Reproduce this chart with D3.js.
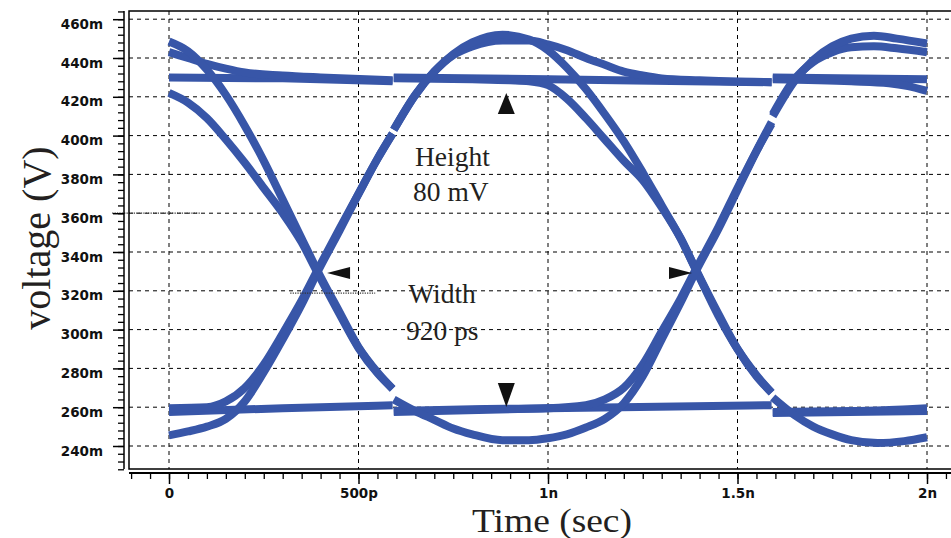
<!DOCTYPE html>
<html>
<head>
<meta charset="utf-8">
<script src="https://cdn.jsdelivr.net/npm/d3@7"></script>
<style>
  body { margin: 0; background: #fff; }
</style>
</head>
<body>
<div id="viz"></div>
<script>
// time in ns, voltage in mV
const xTicks = [0, 0.5, 1, 1.5, 2];
const xTickLabels = ["0", "500p", "1n", "1.5n", "2n"];
const yTicks = [240, 260, 280, 300, 320, 340, 360, 380, 400, 420, 440, 460];
const yTickLabels = ["240m", "260m", "280m", "300m", "320m", "340m", "360m", "380m", "400m", "420m", "440m", "460m"];

// eye traces, each split in three pieces (the capture is stitched at ~590p and ~1.59n)
const sineA = [
  [[0,245.5],[0.05,247.5],[0.1,250],[0.15,254],[0.2,263],[0.25,278],[0.3,295],[0.35,313],[0.39,329],[0.45,351],[0.5,370],[0.55,388],[0.59,401]],
  [[0.593,403],[0.65,421],[0.7,433],[0.75,442],[0.8,448],[0.88,452],[0.95,449.5],[1.0,444],[1.05,435],[1.1,424],[1.15,411],[1.2,397],[1.25,381],[1.3,364],[1.35,347],[1.39,331],[1.45,308],[1.5,290],[1.55,276],[1.59,267.5]],
  [[1.593,265],[1.65,256],[1.7,250],[1.75,246],[1.8,243],[1.87,241.5],[1.94,242.5],[2.0,244.5]]
];
const sineB = [
  [[0,448.5],[0.05,443.5],[0.1,434],[0.15,421],[0.2,405],[0.25,387],[0.3,367],[0.35,347],[0.39,331],[0.45,309],[0.5,291],[0.55,278],[0.59,269.5]],
  [[0.593,264],[0.65,258],[0.7,253.5],[0.75,249],[0.8,246],[0.88,243],[0.95,243],[1.0,244],[1.05,246],[1.1,249.5],[1.15,254],[1.2,262],[1.25,276],[1.3,295],[1.35,314],[1.39,330],[1.45,352],[1.5,372],[1.55,392],[1.59,407]],
  [[1.593,410],[1.65,428],[1.7,439],[1.75,446],[1.8,450],[1.86,451.5],[1.92,450],[2.0,447.5]]
];
const decayHigh = [
  [[0,443],[0.05,440],[0.1,437],[0.15,434.5],[0.2,432.5],[0.3,431],[0.4,430],[0.59,428.5]],
  [[0.593,403],[0.65,421],[0.7,433],[0.75,441.5],[0.8,446],[0.88,449],[0.95,449],[1.0,447],[1.05,444],[1.1,440],[1.15,436.5],[1.2,433],[1.25,431],[1.3,429.5],[1.4,428.5],[1.59,427.5]],
  [[1.593,411],[1.65,429],[1.7,438],[1.75,443],[1.8,445.5],[1.86,446],[1.92,445],[2.0,443]]
];
const fallFromHigh = [
  [[0,422],[0.05,417],[0.1,409],[0.15,398],[0.2,386],[0.25,373],[0.3,360],[0.35,345],[0.39,330],[0.45,308],[0.5,290.5],[0.55,277.5],[0.59,269.5]],
  [[0.593,429.5],[0.8,429],[0.9,428.5],[0.95,428],[1.0,426],[1.05,419],[1.1,409],[1.15,398],[1.2,387],[1.25,377],[1.3,363],[1.35,347],[1.39,331],[1.45,307],[1.5,290],[1.55,276.5],[1.59,267.5]],
  [[1.593,429],[1.8,428],[1.9,427],[1.95,425.5],[2.0,423]]
];
const riseFromLow = [
  [[0,259.5],[0.1,260],[0.15,263],[0.2,270],[0.25,282],[0.3,298],[0.35,315],[0.39,330],[0.45,352],[0.5,370],[0.55,388],[0.59,401]],
  [[0.593,258],[0.8,259],[1.0,259.5],[1.1,261],[1.15,264],[1.2,270],[1.25,282],[1.3,299],[1.35,316],[1.39,331],[1.45,353],[1.5,373],[1.55,392],[1.59,406]],
  [[1.593,257.5],[1.8,258],[1.9,258.5],[1.95,259],[2.0,259.5]]
];
const flatHigh = [
  [[0,430],[0.3,429.5],[0.59,428]],
  [[0.593,430],[1.0,429],[1.59,427.5]],
  [[1.593,430],[2.0,429]]
];
const flatLow = [
  [[0,257.5],[0.3,259.5],[0.59,261]],
  [[0.593,257.5],[1.0,259.5],[1.59,261]],
  [[1.593,257],[2.0,258]]
];

// measurement marks
const arrowMarks = [
  {t: 0.89, v: 421.9, dir: "up"},
  {t: 0.89, v: 260.1, dir: "down"},
  {t: 0.417, v: 329.2, dir: "left"},
  {t: 1.38, v: 329.2, dir: "right"}
];
const notes = [
  {text: "Height", t: 0.649, v: 384.3},
  {text: "80 mV", t: 0.644, v: 366.2},
  {text: "Width", t: 0.631, v: 313.7},
  {text: "920 ps", t: 0.625, v: 294.6}
];
const dottedLines = [
  {t0: -0.15, t1: 0.082, v: 360},
  {t0: 0.32, t1: 0.544, v: 318.8}
];

const width = 951, height = 538;
const box = {left: 129, top: 11, right: 951, bottom: 469};
const traceColor = "#3856a8";

const x = d3.scaleLinear().domain([0, 2]).range([169, 927]);
const y = d3.scaleLinear().domain([240, 460]).range([446, 19.2]);

const svg = d3.select("#viz")
  .append("svg")
  .attr("width", width)
  .attr("height", height)
  .attr("viewBox", [0, 0, width, height]);

// dashed grid
svg.append("g")
  .selectAll("line")
  .data(yTicks)
  .join("line")
  .attr("x1", box.left).attr("x2", box.right)
  .attr("y1", d => y(d)).attr("y2", d => y(d))
  .attr("stroke", "#000")
  .attr("stroke-dasharray", "4,4");

svg.append("g")
  .selectAll("line")
  .data(xTicks)
  .join("line")
  .attr("x1", d => x(d)).attr("x2", d => x(d))
  .attr("y1", box.top).attr("y2", box.bottom)
  .attr("stroke", "#000")
  .attr("stroke-dasharray", "4,4");

// traces
const line = d3.line()
  .x(d => x(d[0]))
  .y(d => y(d[1]))
  .curve(d3.curveMonotoneX);

const traces = [flatHigh, flatLow, decayHigh, fallFromHigh, riseFromLow, sineA, sineB];

svg.append("g")
  .selectAll("path")
  .data(traces.flat())
  .join("path")
  .attr("d", line)
  .attr("fill", "none")
  .attr("stroke", traceColor)
  .attr("stroke-width", 8)
  .attr("stroke-linecap", "butt")
  .attr("stroke-linejoin", "round");

// measurement leftovers (dotted)
svg.append("g")
  .selectAll("line")
  .data(dottedLines)
  .join("line")
  .attr("x1", d => x(d.t0)).attr("x2", d => x(d.t1))
  .attr("y1", d => y(d.v)).attr("y2", d => y(d.v))
  .attr("stroke", "#333")
  .attr("stroke-width", 1.2)
  .attr("stroke-dasharray", "1.2,1.2");

// frame
svg.append("path")
  .attr("d", `M${box.right},${box.top}H${box.left}V${box.bottom}H${box.right}`)
  .attr("fill", "none")
  .attr("stroke", "#000")
  .attr("stroke-width", 1.5);

// y axis
const yAxisX = 124;
const yMinor = d3.range(228, 465, 4);

svg.append("g")
  .attr("transform", `translate(${yAxisX},0)`)
  .call(d3.axisLeft(y).tickValues(yMinor).tickSize(6).tickFormat(""))
  .call(g => g.select(".domain").remove())
  .call(g => g.selectAll(".tick line").attr("stroke-width", 1.3));

const gy = svg.append("g")
  .attr("transform", `translate(${yAxisX},0)`)
  .call(d3.axisLeft(y)
    .tickValues(yTicks)
    .tickSize(11)
    .tickPadding(10)
    .tickFormat((d, i) => yTickLabels[i]))
  .call(g => g.select(".domain").remove());

gy.selectAll(".tick line").attr("stroke-width", 1.5);
gy.selectAll("text")
  .attr("dy", "0.67em")
  .attr("fill", "#111")
  .style("font", "bold 13.5px 'DejaVu Sans', sans-serif");

svg.append("line")
  .attr("x1", yAxisX).attr("x2", yAxisX)
  .attr("y1", box.top).attr("y2", box.bottom)
  .attr("stroke", "#000")
  .attr("stroke-width", 1.5);

// x axis
const xAxisY = 473;
const xMinor = d3.range(-0.1, 2.06, 0.05);

svg.append("g")
  .attr("transform", `translate(0,${xAxisY})`)
  .call(d3.axisBottom(x).tickValues(xMinor).tickSize(6).tickFormat(""))
  .call(g => g.select(".domain").remove())
  .call(g => g.selectAll(".tick line").attr("stroke-width", 1.3));

const gx = svg.append("g")
  .attr("transform", `translate(0,${xAxisY})`)
  .call(d3.axisBottom(x)
    .tickValues(xTicks)
    .tickSize(11)
    .tickPadding(4)
    .tickFormat((d, i) => xTickLabels[i]))
  .call(g => g.select(".domain").remove());

gx.selectAll(".tick line").attr("stroke-width", 1.5);
gx.selectAll("text")
  .attr("fill", "#111")
  .style("font", "bold 13.5px 'DejaVu Sans', sans-serif");

svg.append("line")
  .attr("x1", box.left).attr("x2", box.right)
  .attr("y1", xAxisY).attr("y2", xAxisY)
  .attr("stroke", "#000")
  .attr("stroke-width", 2);

// arrow heads
const tri = d => {
  const px = x(d.t), py = y(d.v);
  if (d.dir === "up") return `M${px},${py}L${px - 8.5},${py + 21}L${px + 8.5},${py + 21}Z`;
  if (d.dir === "down") return `M${px},${py}L${px - 8.5},${py - 24}L${px + 8.5},${py - 24}Z`;
  if (d.dir === "left") return `M${px},${py}L${px + 23},${py - 6}L${px + 23},${py + 6}Z`;
  return `M${px},${py}L${px - 23},${py - 6}L${px - 23},${py + 6}Z`;
};

svg.append("g")
  .selectAll("path")
  .data(arrowMarks)
  .join("path")
  .attr("d", tri)
  .attr("fill", "#111");

// annotation text
svg.append("g")
  .selectAll("text")
  .data(notes)
  .join("text")
  .attr("x", d => x(d.t))
  .attr("y", d => y(d.v))
  .attr("fill", "#231f20")
  .style("font", "27.5px 'Liberation Serif', 'Times New Roman', serif")
  .text(d => d.text);

// axis titles
svg.append("text")
  .attr("transform", "translate(50,238) rotate(-90)")
  .attr("text-anchor", "middle")
  .attr("fill", "#231f20")
  .style("font", "40px 'Liberation Serif', 'Times New Roman', serif")
  .text("voltage (V)");

svg.append("text")
  .attr("x", 552)
  .attr("y", 531.5)
  .attr("text-anchor", "middle")
  .attr("textLength", 160)
  .attr("lengthAdjust", "spacingAndGlyphs")
  .attr("fill", "#231f20")
  .style("font", "34px 'Liberation Serif', 'Times New Roman', serif")
  .text("Time (sec)");
</script>
</body>
</html>
